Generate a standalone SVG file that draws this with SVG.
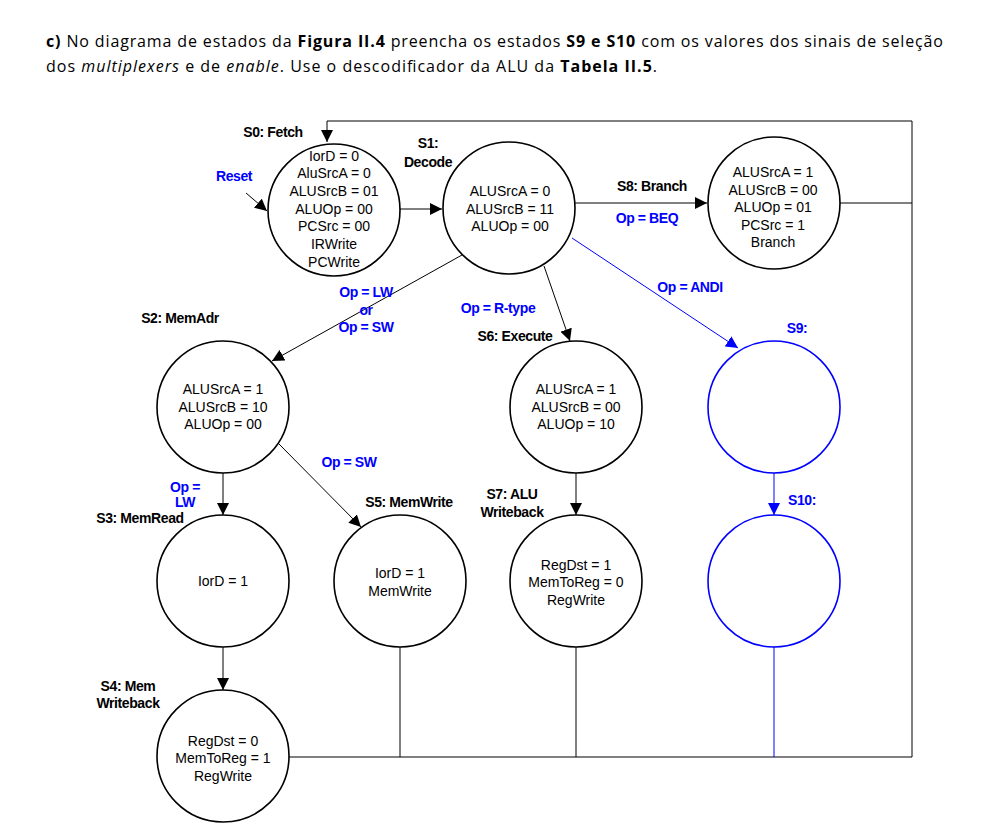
<svg xmlns="http://www.w3.org/2000/svg" width="1008" height="831" viewBox="0 0 1008 831">
<defs>
<style>
.hdr{font-family:"Open Sans","Liberation Sans",sans-serif;font-size:16px;fill:#000}
.b{font-weight:bold}
.i{font-style:italic}
.st{fill:#fff;stroke:#000;stroke-width:1.6}
.stb{fill:#fff;stroke:#0000ff;stroke-width:1.6}
.nt{font-family:"Liberation Sans",Arial,sans-serif;font-size:14px;fill:#000;text-anchor:middle}
.lb{font-family:"Liberation Sans",Arial,sans-serif;font-size:14px;font-weight:bold;fill:#000;text-anchor:middle;letter-spacing:-0.4px}
.blue{fill:#0000ff}
.ln{fill:none;stroke:#000;stroke-width:1}
.lnb{fill:none;stroke:#0000ff;stroke-width:1}
</style>
<marker id="ah" markerUnits="userSpaceOnUse" markerWidth="12" markerHeight="12" refX="12" refY="6" orient="auto">
<path d="M0,0 L12,6 L0,12 z" fill="#000"/>
</marker>
<marker id="ahb" markerUnits="userSpaceOnUse" markerWidth="12" markerHeight="12" refX="12" refY="6" orient="auto">
<path d="M0,0 L12,6 L0,12 z" fill="#0000ff"/>
</marker>
</defs>
<rect width="1008" height="831" fill="#fff"/>

<g id="header">
<text class="hdr" x="46" y="47" textLength="897" lengthAdjust="spacing"><tspan class="b">c)</tspan> No diagrama de estados da <tspan class="b">Figura II.4</tspan> preencha os estados <tspan class="b">S9 e S10</tspan> com os valores dos sinais de seleção</text>
<text class="hdr" x="46" y="72" textLength="611" lengthAdjust="spacing">dos <tspan class="i">multiplexers</tspan> e de <tspan class="i">enable</tspan>. Use o descodificador da ALU da <tspan class="b">Tabela II.5</tspan>.</text>
</g>

<g id="connectors">
<path class="ln" d="M912,203 V121 H327 V142" marker-end="url(#ah)"/>
<path class="ln" d="M840,203 H912 V757 H289"/>
<path class="ln" d="M246,193 L267,211" marker-end="url(#ah)"/>
<path class="ln" d="M400,209 L442,209" marker-end="url(#ah)"/>
<path class="ln" d="M575,203 L707,203" marker-end="url(#ah)"/>
<path class="ln" d="M462,255 L272,361" marker-end="url(#ah)"/>
<path class="ln" d="M544,266 L570,341" marker-end="url(#ah)"/>
<path class="lnb" d="M572,238 L738,348" marker-end="url(#ahb)"/>
<path class="ln" d="M223,473 L223,515" marker-end="url(#ah)"/>
<path class="ln" d="M279,444 L361,527" marker-end="url(#ah)"/>
<path class="ln" d="M576,473 L576,515" marker-end="url(#ah)"/>
<path class="lnb" d="M774,473 L774,515" marker-end="url(#ahb)"/>
<path class="ln" d="M223,647 L223,690" marker-end="url(#ah)"/>
<path class="ln" d="M400,647 V757"/>
<path class="ln" d="M576,647 V757"/>
<path class="lnb" d="M774,647 V757"/>
</g>

<g id="edge-labels">
<text class="lb blue" x="234" y="181">Reset</text>
<text class="lb blue" x="647" y="223">Op = BEQ</text>
<text class="lb blue" x="690" y="292">Op = ANDI</text>
<text class="lb blue" x="366" y="297">Op = LW</text>
<text class="lb blue" x="366" y="315">or</text>
<text class="lb blue" x="366" y="332">Op = SW</text>
<text class="lb blue" x="498" y="313">Op = R-type</text>
<text class="lb blue" x="349" y="467">Op = SW</text>
<text class="lb blue" x="185" y="492">Op =</text>
<text class="lb blue" x="185" y="507">LW</text>
</g>

<g id="S0">
<circle class="st" cx="334" cy="210" r="66"/>
<text class="lb" x="273" y="137">S0: Fetch</text>
<text class="nt" x="334" y="161">IorD = 0</text>
<text class="nt" x="334" y="178">AluSrcA = 0</text>
<text class="nt" x="334" y="196">ALUSrcB = 01</text>
<text class="nt" x="334" y="214">ALUOp = 00</text>
<text class="nt" x="334" y="231">PCSrc = 00</text>
<text class="nt" x="334" y="249">IRWrite</text>
<text class="nt" x="334" y="267">PCWrite</text>
</g>

<g id="S1">
<circle class="st" cx="509" cy="208" r="66"/>
<text class="lb" x="428" y="148">S1:</text>
<text class="lb" x="428" y="167">Decode</text>
<text class="nt" x="510" y="196">ALUSrcA = 0</text>
<text class="nt" x="510" y="214">ALUSrcB = 11</text>
<text class="nt" x="510" y="231">ALUOp = 00</text>
</g>

<g id="S8">
<circle class="st" cx="774" cy="203" r="66"/>
<text class="lb" x="652" y="191">S8: Branch</text>
<text class="nt" x="773" y="177">ALUSrcA = 1</text>
<text class="nt" x="773" y="195">ALUSrcB = 00</text>
<text class="nt" x="773" y="212">ALUOp = 01</text>
<text class="nt" x="773" y="230">PCSrc = 1</text>
<text class="nt" x="773" y="247">Branch</text>
</g>

<g id="S2">
<circle class="st" cx="223" cy="407" r="66"/>
<text class="lb" x="180" y="323">S2: MemAdr</text>
<text class="nt" x="223" y="394">ALUSrcA = 1</text>
<text class="nt" x="223" y="412">ALUSrcB = 10</text>
<text class="nt" x="223" y="429">ALUOp = 00</text>
</g>

<g id="S6">
<circle class="st" cx="576" cy="407" r="66"/>
<text class="lb" x="515" y="341">S6: Execute</text>
<text class="nt" x="576" y="394">ALUSrcA = 1</text>
<text class="nt" x="576" y="412">ALUSrcB = 00</text>
<text class="nt" x="576" y="429">ALUOp = 10</text>
</g>

<g id="S9">
<circle class="stb" cx="774" cy="407" r="66"/>
<text class="lb blue" x="797" y="333">S9:</text>
</g>

<g id="S3">
<circle class="st" cx="223" cy="581" r="66"/>
<text class="lb" x="140" y="523">S3: MemRead</text>
<text class="nt" x="223" y="586">IorD = 1</text>
</g>

<g id="S5">
<circle class="st" cx="400" cy="581" r="66"/>
<text class="lb" x="409" y="507">S5: MemWrite</text>
<text class="nt" x="400" y="578">IorD = 1</text>
<text class="nt" x="400" y="596">MemWrite</text>
</g>

<g id="S7">
<circle class="st" cx="576" cy="581" r="66"/>
<text class="lb" x="512" y="499">S7: ALU</text>
<text class="lb" x="512" y="517">Writeback</text>
<text class="nt" x="576" y="570">RegDst = 1</text>
<text class="nt" x="576" y="587">MemToReg = 0</text>
<text class="nt" x="576" y="605">RegWrite</text>
</g>

<g id="S10">
<circle class="stb" cx="774" cy="581" r="66"/>
<text class="lb blue" x="802" y="505">S10:</text>
</g>

<g id="S4">
<circle class="st" cx="223" cy="756" r="66"/>
<text class="lb" x="128" y="691">S4: Mem</text>
<text class="lb" x="128" y="708">Writeback</text>
<text class="nt" x="223" y="746">RegDst = 0</text>
<text class="nt" x="223" y="763">MemToReg = 1</text>
<text class="nt" x="223" y="781">RegWrite</text>
</g>
</svg>
